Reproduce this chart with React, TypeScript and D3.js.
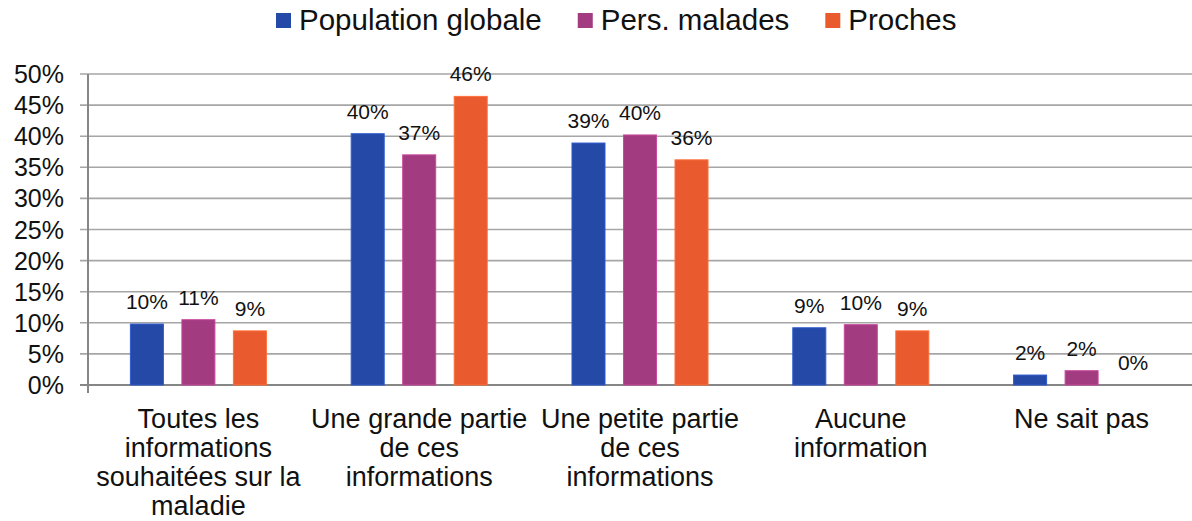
import React from "react";
import * as d3 from "d3";

const categories = [
  ["Toutes les", "informations", "souhaitées sur la", "maladie"],
  ["Une grande partie", "de ces", "informations"],
  ["Une petite partie", "de ces", "informations"],
  ["Aucune", "information"],
  ["Ne sait pas"],
];
const seriesNames = ["Population globale", "Pers. malades", "Proches"];
const colors = ["#2549A6", "#A23B80", "#E95A2E"];
const popGlobale = [0.098, 0.404, 0.389, 0.092, 0.016];
const persMalades = [0.105, 0.370, 0.402, 0.097, 0.023];
const proches = [0.087, 0.464, 0.362, 0.087, 0.0];
const yTicks = [0, 0.05, 0.1, 0.15, 0.2, 0.25, 0.3, 0.35, 0.4, 0.45, 0.5];

const W = 1192;
const H = 521;
const FONT = "'Liberation Sans', Arial, sans-serif";

function measure(text: string, size: number) {
  const c = document.createElement("canvas");
  const ctx = c.getContext("2d")!;
  ctx.font = `${size}px ${FONT}`;
  return ctx.measureText(text).width;
}

export default function App() {
  const values = [popGlobale, persMalades, proches];
  const left = 88;
  const right = 1192;
  const x = d3
    .scaleBand<number>()
    .domain(categories.map((_, i) => i))
    .range([left, right]);
  const xs = d3
    .scaleBand<number>()
    .domain([0, 1, 2])
    .range([0, x.bandwidth()])
    .paddingInner(0.359)
    .paddingOuter(0.823);
  const y = d3.scaleLinear().domain([0, 0.5]).range([385, 74]);
  const fmt = d3.format(".0%");

  const legendFont = 29.5;
  let lx = 276;
  const legendItems = seriesNames.map((n, i) => {
    const item = { x: lx, name: n, color: colors[i] };
    lx += 15 + 8 + measure(n, legendFont) + 36;
    return item;
  });

  return (
    <svg
      width={W}
      height={H}
      style={{ position: "absolute", left: 0, top: 0, background: "#fff" }}
      fontFamily={FONT}
    >
      {/* gridlines */}
      {yTicks.map((t) => (
        <g key={t}>
          <line
            x1={80}
            x2={right}
            y1={y(t)}
            y2={y(t)}
            stroke={t === 0 ? "#868686" : "#a6a6a6"}
            strokeWidth={t === 0 ? 2 : 1.6}
          />
          <text
            x={64}
            y={y(t)}
            dy="0.36em"
            textAnchor="end"
            fontSize={25}
            fill="#111"
          >
            {fmt(t)}
          </text>
        </g>
      ))}
      <line x1={left} x2={left} y1={y(0.5)} y2={393} stroke="#868686" strokeWidth={2} />

      {/* bars */}
      {values.map((arr, s) =>
        arr.map((v, i) => {
          const bx = (x(i) as number) + (xs(s) as number);
          return (
            <g key={`${s}-${i}`}>
              {v > 0 && (
                <rect
                  x={bx}
                  y={y(v)}
                  width={xs.bandwidth()}
                  height={y(0) - y(v)}
                  fill={colors[s]}
                  stroke={d3.color(colors[s])!.brighter(0.6).toString()}
                  strokeWidth={1}
                />
              )}
              <text
                x={bx + xs.bandwidth() / 2}
                y={y(v) - 15}
                textAnchor="middle"
                fontSize={21}
                fill="#111"
              >
                {fmt(v)}
              </text>
            </g>
          );
        })
      )}

      {/* category labels */}
      {categories.map((lines, i) => (
        <text
          key={i}
          x={(x(i) as number) + x.bandwidth() / 2}
          y={428}
          textAnchor="middle"
          fontSize={27}
          fill="#111"
        >
          {lines.map((l, j) => (
            <tspan key={j} x={(x(i) as number) + x.bandwidth() / 2} dy={j === 0 ? 0 : 29}>
              {l}
            </tspan>
          ))}
        </text>
      ))}

      {/* legend */}
      {legendItems.map((it) => (
        <g key={it.name}>
          <rect x={it.x} y={13} width={15} height={15} fill={it.color} />
          <text x={it.x + 23} y={30} fontSize={legendFont} fill="#111">
            {it.name}
          </text>
        </g>
      ))}
    </svg>
  );
}
